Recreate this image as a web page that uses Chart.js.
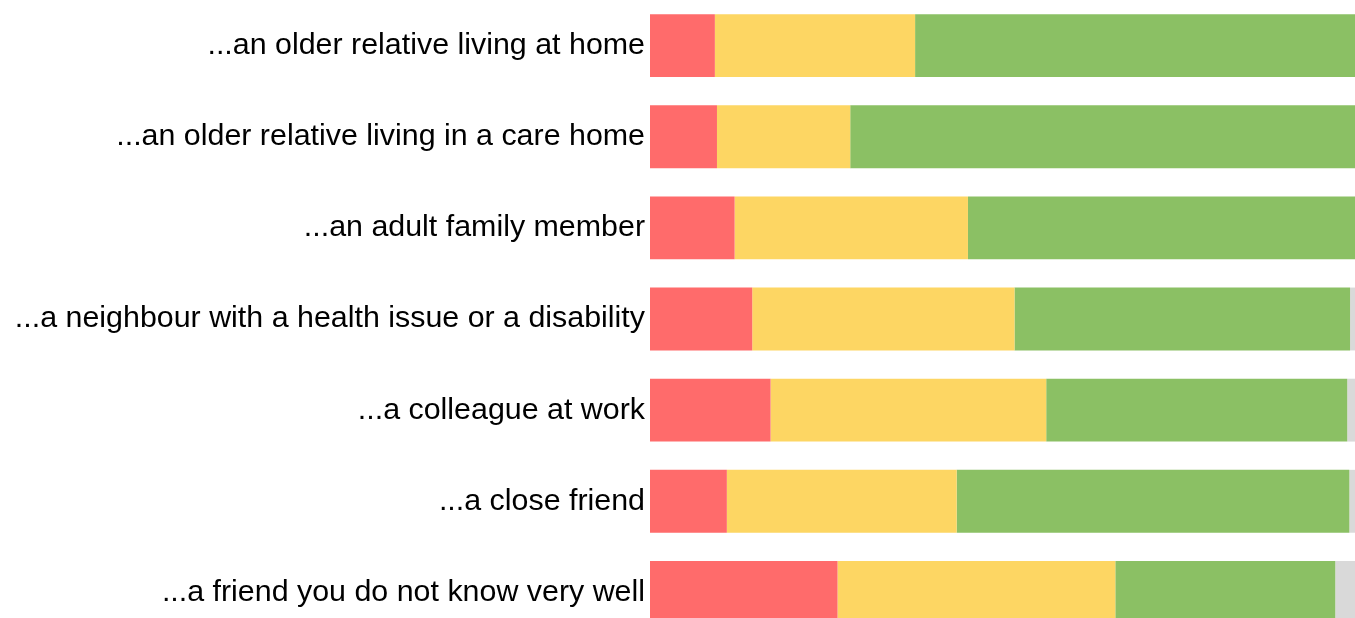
<!DOCTYPE html>
<html>
<head>
<meta charset="utf-8">
<script src="https://cdn.jsdelivr.net/npm/chart.js@4.4.0/dist/chart.umd.min.js"></script>
<style>
  html, body { margin: 0; padding: 0; background: #fff; overflow: hidden; }
  #wrap { position: relative; width: 1355px; height: 638px; }
</style>
</head>
<body>
<div id="wrap"><canvas id="chart"></canvas></div>
<script>
// categories and values (percent of respondents)
const categories = [
  '...an older relative living at home',
  '...an older relative living in a care home',
  '...an adult family member',
  '...a neighbour with a health issue or a disability',
  '...a colleague at work',
  '...a close friend',
  '...a friend you do not know very well'
];
const redValues    = [9.2, 9.5, 12.0, 14.5, 17.1, 10.9, 26.6];
const yellowValues = [28.4, 18.9, 33.1, 37.2, 39.1, 32.6, 39.4];
const greenValues  = [62.4, 71.6, 54.9, 47.6, 42.7, 55.7, 31.2];
const greyValues   = [0, 0, 0, 0.7, 1.1, 0.8, 2.8];

const colors = ['#ff6b6b', '#fdd663', '#8bc064', '#d9d9d9'];

const data = {
  labels: categories,
  datasets: [
    { label: 'red', data: redValues, backgroundColor: colors[0] },
    { label: 'yellow', data: yellowValues, backgroundColor: colors[1] },
    { label: 'green', data: greenValues, backgroundColor: colors[2] },
    { label: 'grey', data: greyValues, backgroundColor: colors[3] }
  ]
};

new Chart(document.getElementById('chart'), {
  type: 'bar',
  data: data,
  options: {
    indexAxis: 'y',
    responsive: true,
    maintainAspectRatio: false,
    animation: false,
    layout: { padding: 0 },
    datasets: {
      bar: { barPercentage: 0.69, categoryPercentage: 1, borderWidth: 0 }
    },
    plugins: {
      legend: { display: false },
      tooltip: { enabled: false }
    },
    scales: {
      x: {
        stacked: true,
        min: 0,
        max: 100,
        display: false
      },
      y: {
        stacked: true,
        grid: { display: false, drawTicks: false },
        border: { display: false },
        ticks: {
          padding: 5,
          color: '#000',
          font: { family: 'Arial, "Liberation Sans", sans-serif', size: 30.4 }
        },
        afterFit: (axis) => {
          // fixed label column, no extra space above/below the bars
          axis.width = 650;
          axis.paddingTop = 0;
          axis.paddingBottom = 0;
        }
      }
    }
  }
});
</script>
</body>
</html>
